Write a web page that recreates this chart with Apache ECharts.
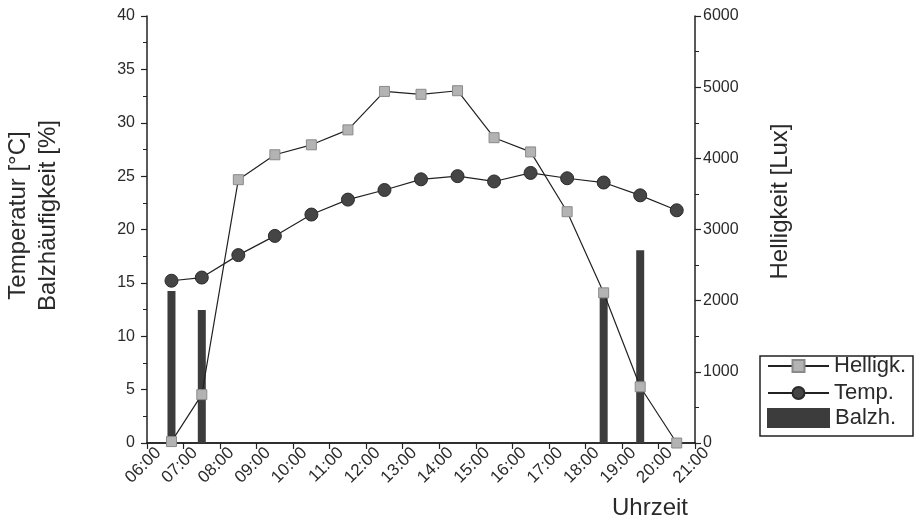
<!DOCTYPE html>
<html>
<head>
<meta charset="utf-8">
<script src="https://cdn.jsdelivr.net/npm/echarts@6/dist/echarts.min.js"></script>
<style>html,body{margin:0;padding:0;background:#fff}#c{width:919px;height:524px}</style>
</head>
<body>
<div id="c"></div>
<script>
// time of day in hours
var times = [6.67, 7.5, 8.5, 9.5, 10.5, 11.5, 12.5, 13.5, 14.5, 15.5, 16.5, 17.5, 18.5, 19.5, 20.5];
var helligkeit = [20, 680, 3700, 4050, 4190, 4400, 4940, 4900, 4950, 4290, 4090, 3250, 2110, 790, 0];
var temperatur = [15.2, 15.5, 17.6, 19.4, 21.4, 22.8, 23.7, 24.7, 25.0, 24.5, 25.3, 24.8, 24.4, 23.2, 21.8];
var balzTimes = [6.67, 7.5, 18.5, 19.5];
var balzh = [14.25, 12.45, 13.7, 18.05];
var xTicks = ['06:00','07:00','08:00','09:00','10:00','11:00','12:00','13:00','14:00','15:00','16:00','17:00','18:00','19:00','20:00','21:00'];

function pairs(xs, ys){ return xs.map(function(x,i){ return [x, ys[i]]; }); }

var FONT = '"Liberation Sans", Arial, sans-serif';
var TXT = '#2a2a2a';
var chart = echarts.init(document.getElementById('c'), null, {renderer:'canvas'});
chart.setOption({
  animation: false,
  backgroundColor: '#fff',
  textStyle: {fontFamily: FONT},
  grid: {left: 147, right: 224, top: 16, bottom: 81, containLabel: false, outerBoundsMode: 'none'},
  title: {text: 'Uhrzeit', left: 612, top: 496, padding: 0, textStyle: {fontFamily: FONT, fontSize: 24, fontWeight: 'normal', color: TXT}},
  legend: [{
    orient: 'vertical', left: 767, top: 355, padding: 0,
    itemWidth: 61, itemHeight: 15, itemGap: 5,
    textStyle: {fontFamily: FONT, fontSize: 22, color: TXT, lineHeight: 22},
    data: [{name:'Helligk.'},{name:'Temp.'}]
  },{
    orient: 'vertical', left: 767, top: 407, padding: 0,
    itemWidth: 63, itemHeight: 20,
    textStyle: {fontFamily: FONT, fontSize: 22, color: TXT, lineHeight: 22},
    data: [{name:'Balzh.', icon: 'rect'}]
  }],
  graphic: [{
    type: 'rect', shape: {x: 760, y: 356, width: 153, height: 80},
    style: {fill: 'none', stroke: '#222', lineWidth: 1.5}, z: 10
  }],
  xAxis: [{
    type: 'value', min: 6, max: 21, interval: 1, position: 'bottom',
    axisLine: {show: true, onZero: false, lineStyle: {color: '#222', width: 1.5}},
    axisTick: {show: true, inside: false, length: 6, lineStyle: {color: '#222', width: 1.2}},
    splitLine: {show: false},
    axisLabel: {show: false}
  },{
    type: 'value', min: 6, max: 21, position: 'top',
    axisLine: {show: true, lineStyle: {color: '#222', width: 1.5}},
    axisTick: {show: false}, axisLabel: {show: false}, splitLine: {show: false}
  },{
    type: 'category', data: xTicks, boundaryGap: false, position: 'bottom',
    axisLine: {show: false}, axisTick: {show: false}, splitLine: {show: false},
    axisLabel: {interval: 0, rotate: 45, fontSize: 17, color: TXT, margin: -4, fontFamily: FONT,
      align: 'right', verticalAlign: 'top', lineHeight: 32}
  }],
  yAxis: [{
    type: 'value', min: 0, max: 40, interval: 5, position: 'left',
    name: 'Temperatur [°C]\nBalzhäufigkeit [%]', nameLocation: 'middle', nameRotate: 90, nameGap: 84,
    nameTextStyle: {fontFamily: FONT, fontSize: 24, color: TXT, lineHeight: 30, padding: [0, 0, 0, 28]},
    axisLine: {show: true, lineStyle: {color: '#222', width: 1.5}},
    axisTick: {show: true, inside: false, length: 6, lineStyle: {color: '#222', width: 1.2}},
    minorTick: {show: true, splitNumber: 2, length: 4, lineStyle: {color: '#222', width: 1}},
    splitLine: {show: false},
    axisLabel: {fontSize: 16, color: TXT, margin: 12, fontFamily: FONT, showMinLabel: true, showMaxLabel: true}
  },{
    type: 'value', min: 0, max: 6000, interval: 1000, position: 'right',
    name: 'Helligkeit [Lux]', nameLocation: 'middle', nameRotate: 90, nameGap: 73,
    nameTextStyle: {fontFamily: FONT, fontSize: 24, color: TXT, padding: [0, 0, 0, 56]},
    axisLine: {show: true, lineStyle: {color: '#222', width: 1.5}},
    axisTick: {show: true, inside: false, length: 6, lineStyle: {color: '#222', width: 1.2}},
    minorTick: {show: true, splitNumber: 2, length: 4, lineStyle: {color: '#222', width: 1}},
    splitLine: {show: false},
    axisLabel: {fontSize: 16, color: TXT, margin: 8, fontFamily: FONT, showMinLabel: true, showMaxLabel: true,
      formatter: function(v){ return String(v); }}
  }],
  series: [{
    name: 'Helligk.', type: 'line', xAxisIndex: 0, yAxisIndex: 1,
    data: pairs(times, helligkeit),
    symbol: 'rect', symbolSize: 10,
    itemStyle: {color: '#b3b3b3', borderColor: '#8a8a8a', borderWidth: 1},
    lineStyle: {color: '#222', width: 1.2},
    z: 4
  },{
    name: 'Temp.', type: 'line', xAxisIndex: 0, yAxisIndex: 0,
    data: pairs(times, temperatur),
    symbol: 'circle', symbolSize: 13,
    itemStyle: {color: '#454545', borderColor: '#2a2a2a', borderWidth: 1},
    lineStyle: {color: '#222', width: 1.2},
    z: 3
  },{
    name: 'Balzh.', type: 'bar', xAxisIndex: 0, yAxisIndex: 0,
    data: pairs(balzTimes, balzh),
    barWidth: 8,
    itemStyle: {color: '#3c3c3c'},
    z: 2
  }]
});
</script>
</body>
</html>
